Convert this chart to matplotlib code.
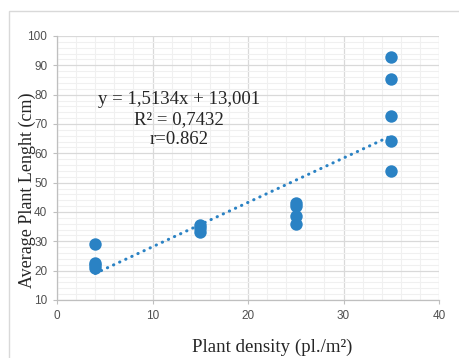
import matplotlib
matplotlib.use("Agg")
import matplotlib.pyplot as plt
from matplotlib.patches import Rectangle
import numpy as np

# plant density (pl./m2) and average plant length (cm)
density = [4, 4, 4, 4, 15, 15, 15, 25, 25, 25, 25, 35, 35, 35, 35, 35]
length = [29.2, 22.5, 21.8, 20.8, 35.5, 34.5, 33.3, 43.0, 42.0, 38.8, 35.8,
          92.8, 85.2, 72.6, 64.3, 54.1]

slope = 1.5134
intercept = 13.001
eq_lines = ["y = 1,5134x + 13,001", "R\u00b2 = 0,7432", "r=0.862"]

blue = "#2a82c4"
tick_col = "#505050"

fig = plt.figure(figsize=(4.59, 3.58), dpi=100)
fig.patches.append(Rectangle((9/459, -0.1), 1.1, 1 - 11/358 + 0.1,
                             transform=fig.transFigure, fill=False,
                             edgecolor="#d9d9d9", lw=1.0))

ax = fig.add_axes([57/459, 1 - 300/358, (439 - 57)/459, (300 - 36)/358])

ax.set_xlim(0, 40)
ax.set_ylim(10, 100)
ax.set_xticks(np.arange(0, 41, 10))
ax.set_yticks(np.arange(10, 101, 10))
ax.set_xticks(np.arange(0, 41, 2), minor=True)
ax.set_yticks(np.arange(10, 101, 2), minor=True)
ax.grid(which="major", color="#d9d9d9", lw=0.9)
ax.grid(which="minor", color="#f0f0f0", lw=0.8)
ax.set_axisbelow(True)

for s in ["top", "right"]:
    ax.spines[s].set_visible(False)
for s in ["left", "bottom"]:
    ax.spines[s].set_color("#bfbfbf")
    ax.spines[s].set_linewidth(0.9)

ax.tick_params(which="major", length=3, width=0.8, color="#bfbfbf",
               labelsize=8.5, labelcolor=tick_col, pad=4)
ax.tick_params(which="minor", length=0)
for lab in ax.get_xticklabels() + ax.get_yticklabels():
    lab.set_family("Liberation Sans")

xs = np.array([min(density), max(density)])
ax.plot(xs, slope*xs + intercept, color=blue, lw=2.2,
        linestyle=(0, (0.1, 2.1)), dash_capstyle="round", zorder=2)

ax.scatter(density, length, s=80, color=blue, zorder=3, linewidths=0)

ax.text(12.8, 71.5, "\n".join(eq_lines), ha="center", va="center",
        fontsize=13.5, family="Liberation Serif", color="#262626",
        linespacing=1.22, multialignment="center")

fig.text(27/459, 1 - 190/358, "Average Plant Lenght (cm)", rotation=90,
         ha="center", va="center", fontsize=13, family="Liberation Serif",
         color="#262626")
fig.text(272/459, 1 - 347/358, "Plant density (pl./m\u00b2)",
         ha="center", va="center", fontsize=13.6, family="Liberation Serif",
         color="#262626")

fig.savefig("out.png", dpi=100)
